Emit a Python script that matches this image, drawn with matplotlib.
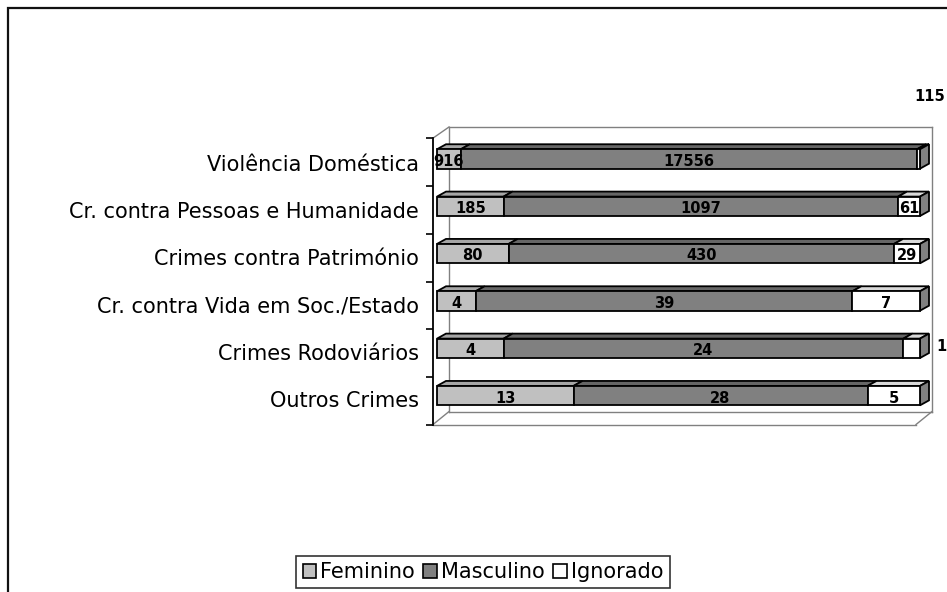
import numpy as np
import matplotlib
matplotlib.use("Agg")
import matplotlib.pyplot as plt
from matplotlib.patches import Polygon, Rectangle, Patch

categories = ["Violência Doméstica", "Cr. contra Pessoas e Humanidade",
              "Crimes contra Património", "Cr. contra Vida em Soc./Estado",
              "Crimes Rodoviários", "Outros Crimes"]
feminino = [916, 185, 80, 4, 4, 13]
masculino = [17556, 1097, 430, 39, 24, 28]
ignorado = [115, 61, 29, 7, 1, 5]
series_names = ["Feminino", "Masculino", "Ignorado"]

colors = ["#C0C0C0", "#808080", "#FFFFFF"]
top_colors = ["#A6A6A6", "#666666", "#D9D9D9"]
side_color = "#808080"

fig = plt.figure(figsize=(9.47, 5.92), dpi=100)
ax = fig.add_axes([433 / 947, 1 - 425 / 592, 499 / 947, 298 / 592])

# scale: 483 px per unit in x, 47.4 px per category in y
px_x = 483.0
px_y = 47.4
ax.set_xlim(-4 / px_x, 495 / px_x)
ax.set_ylim(5.61, -0.675)

# back wall and floor (3d look)
wall = "#808080"
bx = 16 / px_x
xl, xr = -4 / px_x, 495 / px_x
yt, yb = -0.675, 5.61
yfb = yb - 13 / px_y
ax.plot([xl, xl + bx], [-0.44, yt], color=wall, lw=1, clip_on=False)
ax.plot([xl + bx, xr], [yt, yt], color=wall, lw=1, clip_on=False)
ax.plot([xl + bx, xl + bx], [yt, yfb], color=wall, lw=1, clip_on=False)
ax.plot([xr, xr], [yt, yfb], color=wall, lw=1, clip_on=False)
ax.plot([xl + bx, xr], [yfb, yfb], color=wall, lw=1, clip_on=False)
ax.plot([xl, xl + bx], [yb, yfb], color=wall, lw=1, clip_on=False)
ax.plot([xl, xr - bx], [yb, yb], color=wall, lw=1, clip_on=False)
ax.plot([xr - bx, xr], [yb, yfb], color=wall, lw=1, clip_on=False)

data = np.array([feminino, masculino, ignorado], dtype=float)
totals = data.sum(axis=0)
frac = data / totals
y = np.arange(len(categories))
h = 0.41
dx = 9 / px_x
dy = -5 / px_y

left = np.zeros(len(categories))
for k in range(3):
    ax.barh(y, frac[k], left=left, height=h, color=colors[k],
            edgecolor="black", linewidth=1.3, zorder=3)
    for i in y:
        x0 = left[i]
        x1 = left[i] + frac[k][i]
        ytop = i - h / 2
        top = Polygon([(x0, ytop), (x1, ytop), (x1 + dx, ytop + dy), (x0 + dx, ytop + dy)],
                      closed=True, facecolor=top_colors[k], edgecolor="black",
                      linewidth=1.3, zorder=2)
        ax.add_patch(top)
    left = left + frac[k]

for i in y:
    ytop = i - h / 2
    side = Polygon([(1, ytop), (1, ytop + h), (1 + dx, ytop + h + dy), (1 + dx, ytop + dy)],
                   closed=True, facecolor=side_color, edgecolor="black",
                   linewidth=1.3, zorder=2)
    ax.add_patch(side)

# value labels
label_font = dict(fontsize=10.5, fontweight="bold", family="DejaVu Sans",
                  ha="center", va="center", zorder=5)
left = np.zeros(len(categories))
for k in range(3):
    for i in y:
        val = int(data[k][i])
        cx = left[i] + frac[k][i] / 2
        if k == 2 and i == 0:
            ax.text(1.02, -1.31, str(val), clip_on=False, **label_font)
        elif k == 2 and i == 4:
            ax.text(1.045, i - 0.04, str(val), clip_on=False, **label_font)
        else:
            ax.text(cx, i + 0.05, str(val), **label_font)
    left = left + frac[k]

# axis styling
for s in ["top", "right", "bottom"]:
    ax.spines[s].set_visible(False)
ax.spines["left"].set_bounds(5.61, -0.44)
ax.spines["left"].set_linewidth(1.3)
ax.set_xticks([])
ax.set_yticks(y + 0.08)
ax.set_yticklabels(categories, fontsize=15)
ax.set_yticks(np.arange(7) - 0.44 + np.arange(7) * 0.01, minor=True)
ax.tick_params(axis="y", which="major", length=0, pad=10)
ax.tick_params(axis="y", which="minor", length=5, width=1.2, direction="out")
ax.patch.set_alpha(0)

handles = [Patch(facecolor=colors[k], edgecolor="black", linewidth=1.2) for k in range(3)]
leg = fig.legend(handles, series_names, loc="center", bbox_to_anchor=(483 / 947, 1 - 572 / 592),
                 ncol=3, fontsize=15, frameon=True, fancybox=False,
                 handlelength=0.65, handleheight=0.65, handletextpad=0.2,
                 columnspacing=0.4, borderpad=0.3, borderaxespad=0)
leg.get_frame().set_edgecolor("black")
leg.get_frame().set_linewidth(1.2)

# outer chart frame, cut off at right and bottom like the original
fig.patches.append(Rectangle((8 / 947, -0.05), 1.0, (592 - 8) / 592 + 0.05,
                             transform=fig.transFigure, fill=False,
                             edgecolor="#111111", linewidth=1.6))

plt.savefig("out.png", dpi=100)
